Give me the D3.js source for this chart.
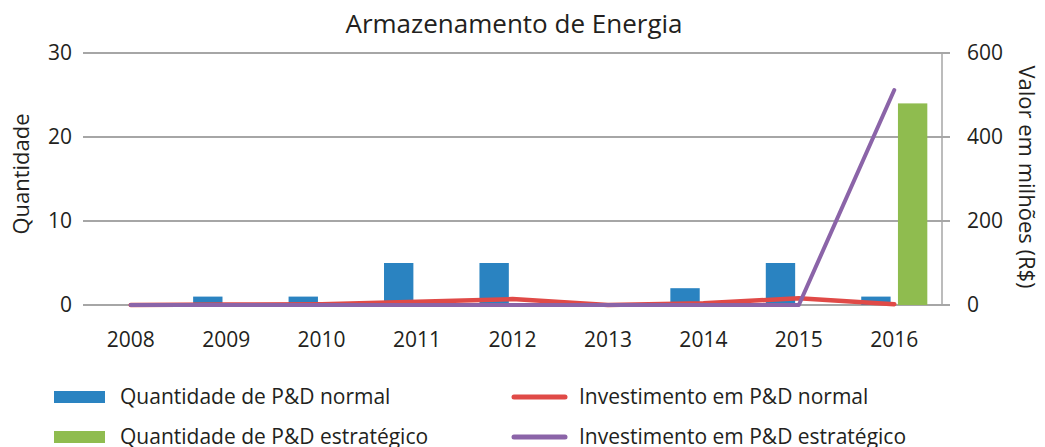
<!DOCTYPE html>
<html><head><meta charset="utf-8">
<script src="https://cdn.jsdelivr.net/npm/d3@7"></script>
<style>
body{margin:0;background:#fff;}
text{font-family:"Open Sans","Noto Sans",sans-serif;fill:#231f20;}
</style></head>
<body><svg id="c" width="1045" height="447"></svg>
<script>
const categories = ["2008","2009","2010","2011","2012","2013","2014","2015","2016"];
const qtdNormal = [0,1,1,5,5,0,2,5,1];
const qtdEstrategico = [0,0,0,0,0,0,0,0,24];
const invNormal = [0,1,2,8,14,0,4,16,2];
const invEstrategico = [0,0,0,0,0,0,0,0,512];
const leftTicks = [0,10,20,30];
const rightTicks = [0,200,400,600];
const title = "Armazenamento de Energia";
const leftTitle = "Quantidade";
const rightTitle = "Valor em milhões (R$)";
const legendItems = [
  {label:"Quantidade de P&D normal", type:"bar", color:"#2a83c1"},
  {label:"Quantidade de P&D estratégico", type:"bar", color:"#8fbc4f"},
  {label:"Investimento em P&D normal", type:"line", color:"#e04a47"},
  {label:"Investimento em P&D estratégico", type:"line", color:"#8b64a8"}
];

const svg = d3.select("#c");
const L=83, R=942, T=53, B=305;
const x = d3.scaleBand().domain(categories).range([L,R]);
const xs = d3.scaleBand().domain(["n","e"]).range([0,x.bandwidth()]).paddingInner(0.2).paddingOuter(0.4);
const yL = d3.scaleLinear().domain([0,30]).range([B,T]);
const yR = d3.scaleLinear().domain([0,600]).range([B,T]);
const grid="#a6a6a6";

svg.append("g").selectAll("line").data(leftTicks).join("line")
  .attr("x1",L).attr("x2",R+8).attr("y1",d=>yL(d)).attr("y2",d=>yL(d))
  .attr("stroke",grid).attr("stroke-width",2);
svg.append("line").attr("x1",R).attr("x2",R).attr("y1",T).attr("y2",B).attr("stroke",grid).attr("stroke-width",1.5);

function styleAxis(g){
  g.select(".domain").remove();
  g.selectAll("text").style("font-size","21px").attr("fill","#231f20").style("font-family",null);
}
const gL = svg.append("g").attr("transform",`translate(${L-11},0)`)
  .call(d3.axisLeft(yL).tickValues(leftTicks).tickSize(0).tickPadding(0));
styleAxis(gL);
const gR = svg.append("g").attr("transform",`translate(${R+25},0)`)
  .call(d3.axisRight(yR).tickValues(rightTicks).tickSize(0).tickPadding(0));
styleAxis(gR);
const gB = svg.append("g").attr("transform",`translate(0,${B+27})`)
  .call(d3.axisBottom(x).tickSize(0).tickPadding(0));
styleAxis(gB);

svg.append("g").selectAll("rect").data(categories).join("rect")
  .attr("x",d=>x(d)+xs("n")).attr("width",xs.bandwidth())
  .attr("y",(d,i)=>yL(qtdNormal[i])).attr("height",(d,i)=>B-yL(qtdNormal[i]))
  .attr("fill","#2a83c1");
svg.append("g").selectAll("rect").data(categories).join("rect")
  .attr("x",d=>x(d)+xs("e")).attr("width",xs.bandwidth())
  .attr("y",(d,i)=>yL(qtdEstrategico[i])).attr("height",(d,i)=>B-yL(qtdEstrategico[i]))
  .attr("fill","#8fbc4f");

const line = d3.line().x((d,i)=>x(categories[i])+x.bandwidth()/2).y(d=>yR(d));
svg.append("path").datum(invNormal).attr("d",line).attr("fill","none")
  .attr("stroke","#e04a47").attr("stroke-width",4.5).attr("stroke-linecap","round").attr("stroke-linejoin","round");
svg.append("path").datum(invEstrategico).attr("d",line).attr("fill","none")
  .attr("stroke","#8b64a8").attr("stroke-width",4).attr("stroke-linecap","round").attr("stroke-linejoin","round");

svg.append("text").attr("x",514).attr("y",33).attr("text-anchor","middle").style("font-size","26px").text(title);
svg.append("text").attr("transform","translate(29,174) rotate(-90)").attr("text-anchor","middle").style("font-size","22px").text(leftTitle);
svg.append("text").attr("transform","translate(1019,177) rotate(90)").attr("text-anchor","middle").style("font-size","22px").text(rightTitle);

const legPos = [[54,391],[54,431],[512,391],[512,431]];
legendItems.forEach((it,i)=>{
  const [lx,ly]=legPos[i];
  const g = svg.append("g");
  if(it.type==="bar") g.append("rect").attr("x",lx).attr("y",ly).attr("width",51).attr("height",12).attr("fill",it.color);
  else g.append("line").attr("x1",lx+2).attr("x2",lx+53).attr("y1",ly+6).attr("y2",ly+6).attr("stroke",it.color).attr("stroke-width",5).attr("stroke-linecap","round");
  g.append("text").attr("x",lx+(it.type==="bar"?66:67)).attr("y",ly+13).style("font-size","21px").text(it.label);
});
</script></body></html>
